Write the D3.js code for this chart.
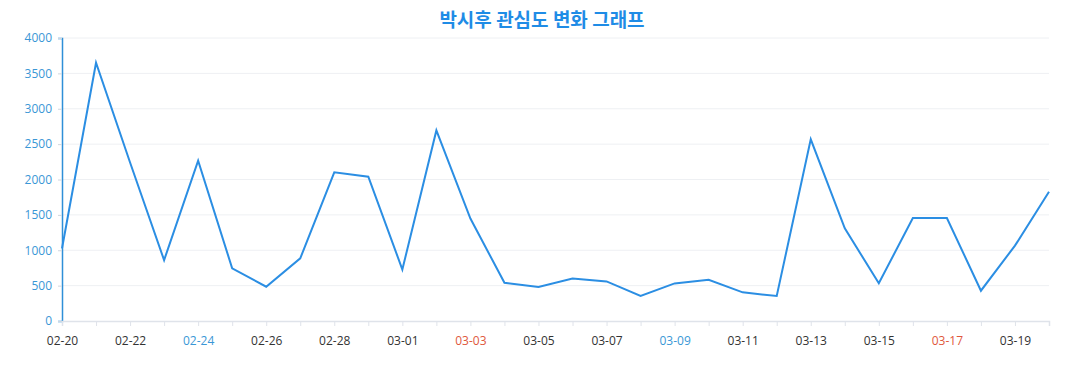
<!DOCTYPE html>
<html><head><meta charset="utf-8">
<script src="https://cdn.jsdelivr.net/npm/d3@7"></script>
<style>body{margin:0;background:#fff}svg{display:block}</style>
</head><body><svg id="c" width="1077" height="390"></svg>
<script>
const title = "박시후 관심도 변화 그래프";
const dates = ["02-20","02-21","02-22","02-23","02-24","02-25","02-26","02-27","02-28","02-29",
  "03-01","03-02","03-03","03-04","03-05","03-06","03-07","03-08","03-09","03-10",
  "03-11","03-12","03-13","03-14","03-15","03-16","03-17","03-18","03-19","03-20"];
const values = [1025,3650,2240,860,2265,745,485,885,2102,2040,
  728,2694,1448,540,480,602,560,353,531,583,
  405,353,2568,1310,533,1456,1456,428,1065,1828];
const yTicks = [0,500,1000,1500,2000,2500,3000,3500,4000];
const blueLabels = ["02-24","03-09"];
const redLabels = ["03-03","03-17"];

const svg = d3.select("#c");
const L = 62, R = 1049, T = 38, B = 321;
const x = d3.scalePoint().domain(dates).range([L, R]);
const y = d3.scaleLinear().domain([0, 4000]).range([B, T]);
const font = "'Open Sans', 'Noto Sans', sans-serif";

svg.append("text").attr("x", 542).attr("y", 27).attr("text-anchor", "middle")
  .attr("font-family", "'Noto Sans CJK KR', sans-serif").attr("font-weight", "bold")
  .attr("font-size", 19).attr("fill", "#1f8ce6").text(title);

// grid
svg.append("g").selectAll("line").data(yTicks.filter(d => d > 0)).join("line")
  .attr("x1", L).attr("x2", R).attr("y1", d => y(d)).attr("y2", d => y(d))
  .attr("stroke", "#eef0f3").attr("stroke-width", 1);

// y axis
const ya = svg.append("g").attr("transform", `translate(${L},0)`)
  .call(d3.axisLeft(y).tickValues(yTicks).tickFormat(d3.format("d")).tickSize(4).tickPadding(6));
ya.select(".domain").attr("stroke", "#2f8fd8").attr("stroke-width", 1.5);
ya.selectAll(".tick line").attr("stroke", "#cfd6df");
ya.selectAll(".tick text").attr("font-family", font).attr("font-size", 12).attr("fill", "#3a97d6");

// x axis
const xa = svg.append("g").attr("transform", `translate(0,${B})`)
  .call(d3.axisBottom(x).tickSize(5).tickPadding(10).tickFormat((d, i) => i % 2 === 0 ? d : ""));
xa.select(".domain").attr("stroke", "#dfe3ea").attr("stroke-width", 1.5);
xa.selectAll(".tick line").attr("stroke", "#dfe3ea");
xa.selectAll(".tick text").attr("font-family", font).attr("font-size", 12)
  .attr("fill", d => blueLabels.includes(d) ? "#3a97d6" : redLabels.includes(d) ? "#e0583c" : "#333");

// line
svg.append("path").datum(values)
  .attr("fill", "none").attr("stroke", "#2b8ee3").attr("stroke-width", 2).attr("stroke-linejoin", "miter")
  .attr("d", d3.line().x((d, i) => x(dates[i])).y(d => y(d)));
</script></body></html>
